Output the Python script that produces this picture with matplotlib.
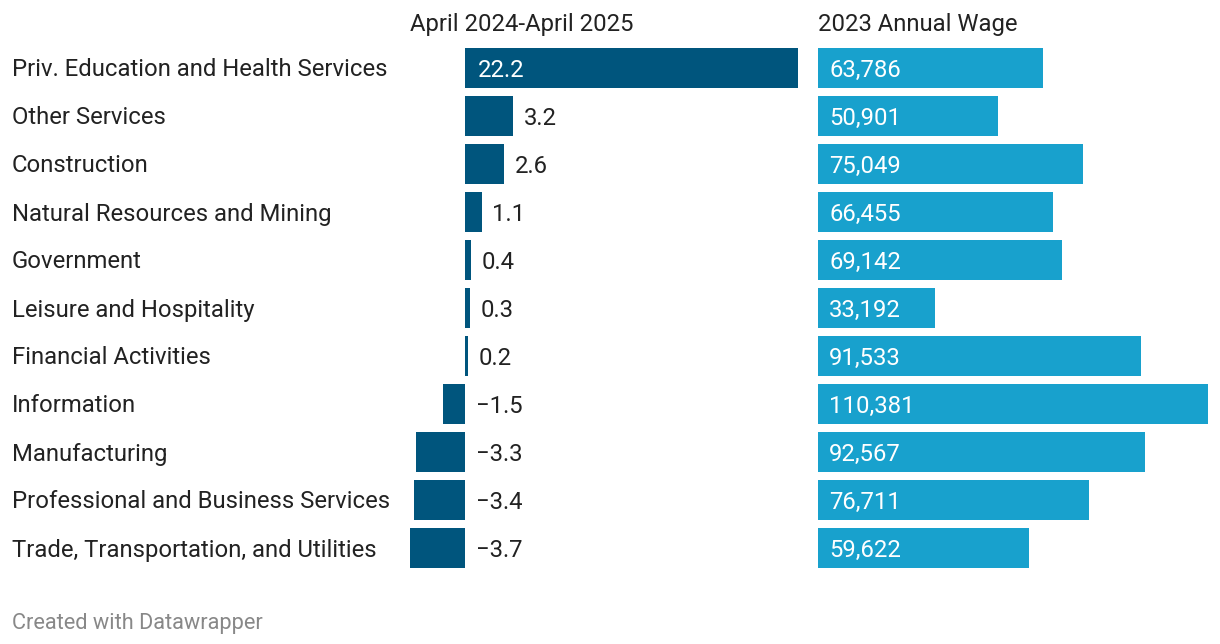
import matplotlib.pyplot as plt
import numpy as np

plt.rcParams['font.family'] = ['Roboto', 'DejaVu Sans']

industries = [
    'Priv. Education and Health Services', 'Other Services', 'Construction',
    'Natural Resources and Mining', 'Government', 'Leisure and Hospitality',
    'Financial Activities', 'Information', 'Manufacturing',
    'Professional and Business Services', 'Trade, Transportation, and Utilities',
]
job_change = [22.2, 3.2, 2.6, 1.1, 0.4, 0.3, 0.2, -1.5, -3.3, -3.4, -3.7]
annual_wage = [63786, 50901, 75049, 66455, 69142, 33192, 91533, 110381, 92567, 76711, 59622]

W, H = 1220, 644
DARK = '#00557d'
LIGHT = '#18a1cd'
TEXT = '#222222'
FS = 17.2
DY = -1.5  # small downward nudge for text centring (points)

fig = plt.figure(figsize=(W / 100, H / 100), dpi=100)

def add_ax(x0, x1):
    # pixel positions -> figure fraction
    return fig.add_axes([x0 / W, 1 - 572 / H, (x1 - x0) / W, 528 / H])

n = len(industries)
ypos = np.arange(n)

# left column: change
ax1 = add_ax(410, 798)
ax1.barh(ypos, job_change, height=40 / 48, color=DARK)
ax1.set_xlim(min(job_change), max(job_change))
for i, v in enumerate(job_change):
    if v > 10:
        ax1.annotate(f'{v:.1f}', (0, i), xytext=(9, DY), textcoords='offset points',
                     va='center', ha='left', color='white', fontsize=FS)
    else:
        lab = f'{v:.1f}'.replace('-', '\u2212')
        ax1.annotate(lab, (max(v, 0), i), xytext=(7.5, DY), textcoords='offset points',
                     va='center', ha='left', color=TEXT, fontsize=FS)

# right column: wage
ax2 = add_ax(818, 1208)
ax2.barh(ypos, annual_wage, height=40 / 48, color=LIGHT)
ax2.set_xlim(0, max(annual_wage))
for i, v in enumerate(annual_wage):
    ax2.annotate(f'{v:,}', (0, i), xytext=(8, DY), textcoords='offset points',
                 va='center', ha='left', color='white', fontsize=FS)

for ax in (ax1, ax2):
    ax.set_ylim(n - 0.5, -0.5)
    ax.axis('off')

# category labels
for i, name in enumerate(industries):
    fig.text(12 / W, 1 - (70 + 48 * i) / H, name, ha='left', va='center',
             color=TEXT, fontsize=FS)

# column headers
fig.text(410 / W, 1 - 25 / H, 'April 2024-April 2025', ha='left', va='center',
         color=TEXT, fontsize=FS)
fig.text(818 / W, 1 - 25 / H, '2023 Annual Wage', ha='left', va='center',
         color=TEXT, fontsize=FS)

fig.text(12 / W, 1 - 623 / H, 'Created with Datawrapper', ha='left', va='center',
         color='#888888', fontsize=15.7)

fig.savefig('out.png', dpi=100)
